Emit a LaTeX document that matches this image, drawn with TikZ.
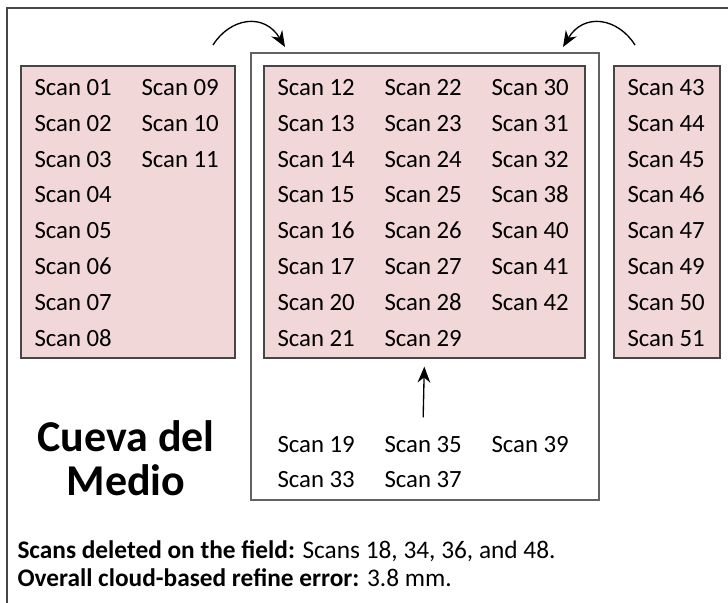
\documentclass[tikz,border=0pt]{standalone}
\usepackage{fontspec}
\setmainfont{Carlito}
\usetikzlibrary{arrows.meta}

\definecolor{scanpink}{RGB}{242,215,216}
\definecolor{boxgray}{RGB}{70,70,70}

\tikzset{every picture/.style={line width=0.75pt}}
\tikzset{
  pinkbox/.style={draw=boxgray, fill=scanpink, line width=1.2pt, inner sep=0pt, anchor=north west},
  groupbox/.style={draw=boxgray!85, fill=white, line width=1.2pt, inner sep=0pt, anchor=north west},
  scan/.style={anchor=base west, inner sep=0pt, font=\fontsize{18.6}{22}\selectfont},
  movearrow/.style={-{Stealth[length=12pt,width=9.5pt]}, line width=1pt}
}

\begin{document}
\begin{tikzpicture}[x=0.75pt,y=0.75pt,yscale=-1,xscale=1]
\useasboundingbox (0,0) rectangle (728,603);

%Frame (top and left)
\draw [color=boxgray, line width=1.2pt] (7,603) -- (7,8) -- (728,8) ;

%Group boxes
\node [groupbox, minimum width=261pt, minimum height=335.25pt] (groupbox) at (250,52) {};
\node [pinkbox, minimum width=160.5pt, minimum height=219pt] (leftbox) at (20,65) {};
\node [pinkbox, minimum width=240.75pt, minimum height=219pt] (midbox) at (263,65) {};
\node [pinkbox, minimum width=79.5pt, minimum height=219pt] (rightbox) at (613,65) {};

% Text Node left box
\node [scan] (s01) at (34,95) {Scan 01};
\node [scan] (s02) at (34,131) {Scan 02};
\node [scan] (s03) at (34,167) {Scan 03};
\node [scan] (s04) at (34,202) {Scan 04};
\node [scan] (s05) at (34,238) {Scan 05};
\node [scan] (s06) at (34,274) {Scan 06};
\node [scan] (s07) at (34,310) {Scan 07};
\node [scan] (s08) at (34,346) {Scan 08};
\node [scan] (s09) at (141,95) {Scan 09};
\node [scan] (s10) at (141,131) {Scan 10};
\node [scan] (s11) at (141,167) {Scan 11};

% Text Node middle box
\node [scan] (s12) at (277,95) {Scan 12};
\node [scan] (s13) at (277,131) {Scan 13};
\node [scan] (s14) at (277,167) {Scan 14};
\node [scan] (s15) at (277,202) {Scan 15};
\node [scan] (s16) at (277,238) {Scan 16};
\node [scan] (s17) at (277,274) {Scan 17};
\node [scan] (s20) at (277,310) {Scan 20};
\node [scan] (s21) at (277,346) {Scan 21};
\node [scan] (s22) at (384,95) {Scan 22};
\node [scan] (s23) at (384,131) {Scan 23};
\node [scan] (s24) at (384,167) {Scan 24};
\node [scan] (s25) at (384,202) {Scan 25};
\node [scan] (s26) at (384,238) {Scan 26};
\node [scan] (s27) at (384,274) {Scan 27};
\node [scan] (s28) at (384,310) {Scan 28};
\node [scan] (s29) at (384,346) {Scan 29};
\node [scan] (s30) at (491,95) {Scan 30};
\node [scan] (s31) at (491,131) {Scan 31};
\node [scan] (s32) at (491,167) {Scan 32};
\node [scan] (s38) at (491,202) {Scan 38};
\node [scan] (s40) at (491,238) {Scan 40};
\node [scan] (s41) at (491,274) {Scan 41};
\node [scan] (s42) at (491,310) {Scan 42};

% Text Node right box
\node [scan] (s43) at (627,95) {Scan 43};
\node [scan] (s44) at (627,131) {Scan 44};
\node [scan] (s45) at (627,167) {Scan 45};
\node [scan] (s46) at (627,202) {Scan 46};
\node [scan] (s47) at (627,238) {Scan 47};
\node [scan] (s49) at (627,274) {Scan 49};
\node [scan] (s50) at (627,310) {Scan 50};
\node [scan] (s51) at (627,346) {Scan 51};

% Text Node lower group
\node [scan] (s19) at (277,452) {Scan 19};
\node [scan] (s33) at (277,487) {Scan 33};
\node [scan] (s35) at (384,452) {Scan 35};
\node [scan] (s37) at (384,487) {Scan 37};
\node [scan] (s39) at (491,452) {Scan 39};

% Text Node site name
\node [anchor=base, inner sep=0pt, font=\fontsize{33}{33}\selectfont\bfseries, align=center] (site) at (126,495) {Cueva del\\Medio};

% Text Node notes
\node [anchor=base west, inner sep=0pt, font=\fontsize{19}{22}\selectfont] (deleted) at (17,558) {\textbf{Scans deleted on the field:} Scans 18, 34, 36, and 48.};
\node [anchor=base west, inner sep=0pt, font=\fontsize{19}{22}\selectfont] (refine) at (17,586) {\textbf{Overall cloud-based refine error:} 3.8 mm.};

%Arrows
\coordinate (lstart) at (213,45);
\coordinate (ltip) at (285,47);
\coordinate (rstart) at (635,45);
\coordinate (rtip) at (563,47);
\draw [movearrow] (lstart) .. controls (230,18) and (264,12) .. (ltip) ;
\draw [movearrow] (rstart) .. controls (618,18) and (584,12) .. (rtip) ;
\draw [movearrow] ([yshift=-13.5pt]s35.north) -- ([yshift=6pt]midbox.south) ;

\end{tikzpicture}
\end{document}
